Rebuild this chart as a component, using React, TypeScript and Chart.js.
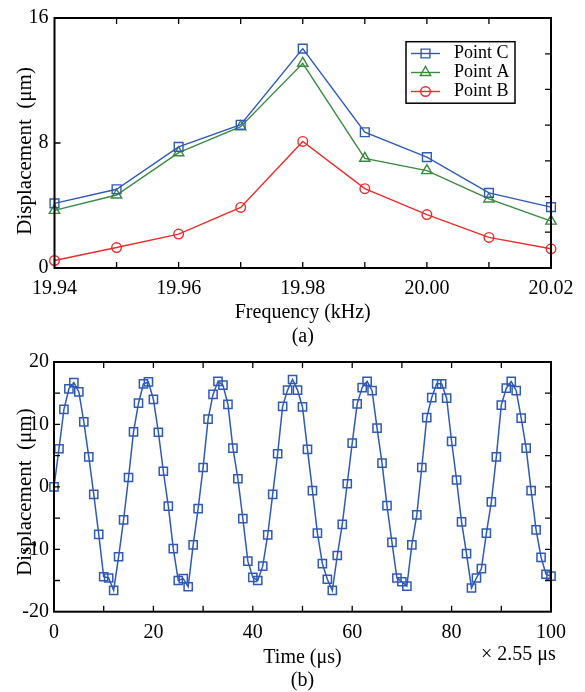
import React, { useEffect, useRef } from "react";
import { Chart, registerables } from "chart.js";

Chart.register(...registerables);

const FONT = "'Liberation Serif', 'Times New Roman', serif";

// ---------- (a) frequency response ----------
const frequencies = [19.94, 19.95, 19.96, 19.97, 19.98, 19.99, 20.0, 20.01, 20.02];
const pointC = [4.14, 5.04, 7.75, 9.17, 14.04, 8.69, 7.1, 4.81, 3.9];
const pointA = [3.69, 4.67, 7.38, 9.04, 13.1, 7.02, 6.23, 4.42, 3.0];
const pointB = [0.48, 1.31, 2.17, 3.88, 8.1, 5.08, 3.42, 1.96, 1.23];
const freqTickLabels = [19.94, 19.96, 19.98, 20.0, 20.02];
const freqMinorTicks = [19.95, 19.96, 19.97, 19.98, 19.99, 20.0, 20.01];
const dispTickLabels = [0, 8, 16];
const dispLeftTicks = [8];
const dispRightTicks = [2.29, 4.57, 6.86, 9.14, 11.43, 13.71];

// ---------- (b) time response ----------
const times = [
  0, 1, 2, 3, 4, 5, 6, 7, 8, 9, 10, 11, 12, 13, 14, 15, 16, 17, 18, 19, 20,
  21, 22, 23, 24, 25, 26, 27, 28, 29, 30, 31, 32, 33, 34, 35, 36, 37, 38, 39, 40,
  41, 42, 43, 44, 45, 46, 47, 48, 49, 50, 51, 52, 53, 54, 55, 56, 57, 58, 59, 60,
  61, 62, 63, 64, 65, 66, 67, 68, 69, 70, 71, 72, 73, 74, 75, 76, 77, 78, 79, 80,
  81, 82, 83, 84, 85, 86, 87, 88, 89, 90, 91, 92, 93, 94, 95, 96, 97, 98, 99, 100,
];
const timeDisp = [
  0, 6.1, 12.4, 15.7, 16.7, 15.2, 10.4, 4.8, -1.2, -7.6, -14.4,
  -14.6, -16.6, -11.2, -5.3, 1.5, 8.8, 13.4, 16.5, 16.8, 14.0,
  8.75, 2.5, -3.1, -9.9, -15.0, -14.7, -16.0, -9.3, -3.5, 3.1,
  10.85, 14.8, 16.9, 16.3, 13.2, 6.2, 1.3, -5.1, -11.9, -14.5,
  -15.0, -12.7, -7.7, -1.2, 5.3, 12.9, 15.5, 17.2, 15.5, 12.8,
  6.0, -0.6, -7.4, -12.3, -14.8, -16.6, -11.0, -6.0, 0.5, 7.0,
  13.3, 15.9, 16.9, 15.4, 9.4, 3.8, -3.0, -8.9, -14.6, -15.2,
  -15.9, -9.3, -4.5, 3.1, 11.1, 14.3, 16.5, 16.5, 14.2, 7.3,
  1.1, -5.6, -10.7, -16.2, -14.6, -13.1, -7.4, -2.4, 4.8, 13.1,
  15.8, 16.9, 15.4, 11.0, 6.2, -0.6, -6.9, -11.3, -14.0, -14.3,
];
const timeTickLabels = [0, 20, 40, 60, 80, 100];
const timeMinorTicks = [10, 20, 30, 40, 50, 60, 70, 80, 90];
const ampTickLabels = [-20, -10, 0, 10, 20];
const ampMinorTicks = [-15, -10, -5, 0, 5, 10, 15];

const COLOR_C = "#2f5ab8";
const COLOR_A = "#3a8a40";
const COLOR_B = "#ee2b2b";

function drawMarker(ctx: CanvasRenderingContext2D, style: string, x: number, y: number, r: number) {
  ctx.beginPath();
  if (style === "rect") {
    const s = r * Math.SQRT1_2;
    ctx.rect(x - s, y - s, 2 * s, 2 * s);
  } else if (style === "triangle") {
    for (let k = 0; k < 3; k++) {
      const a = (k * 2 * Math.PI) / 3;
      const px = x + Math.sin(a) * r;
      const py = y - Math.cos(a) * r;
      if (k === 0) ctx.moveTo(px, py);
      else ctx.lineTo(px, py);
    }
    ctx.closePath();
  } else {
    ctx.arc(x, y, r, 0, Math.PI * 2);
  }
  ctx.stroke();
}

const frameTicksPlugin = {
  id: "frameTicks",
  afterDatasetsDraw(chart: any, _args: any, opts: any) {
    const { ctx, chartArea, scales } = chart;
    const { left, right, top, bottom } = chartArea;
    const len = opts.length ?? 6;
    ctx.save();
    ctx.strokeStyle = "#000";
    ctx.lineWidth = 1.3;
    ctx.beginPath();
    (opts.xTicks || []).forEach((v: number) => {
      const px = scales.x.getPixelForValue(v);
      ctx.moveTo(px, bottom);
      ctx.lineTo(px, bottom - len);
      ctx.moveTo(px, top);
      ctx.lineTo(px, top + len);
    });
    (opts.yLeftTicks || []).forEach((v: number) => {
      const py = scales.y.getPixelForValue(v);
      ctx.moveTo(left, py);
      ctx.lineTo(left + len, py);
    });
    (opts.yRightTicks || []).forEach((v: number) => {
      const py = scales.y.getPixelForValue(v);
      ctx.moveTo(right, py);
      ctx.lineTo(right - len, py);
    });
    ctx.stroke();
    ctx.lineWidth = 2;
    ctx.strokeRect(left, top, right - left, bottom - top);
    ctx.restore();
  },
};

const boxLegendPlugin = {
  id: "boxLegend",
  afterDraw(chart: any, _args: any, opts: any) {
    if (!opts || !opts.show) return;
    const { ctx } = chart;
    const { x, y, w, h, firstRow, rowGap, lineX0, lineX1, textX, fontSize } = opts;
    ctx.save();
    ctx.fillStyle = "#fff";
    ctx.fillRect(x, y, w, h);
    ctx.strokeStyle = "#000";
    ctx.lineWidth = 1.5;
    ctx.strokeRect(x, y, w, h);
    chart.data.datasets.forEach((ds: any, i: number) => {
      const cy = y + firstRow + i * rowGap;
      ctx.strokeStyle = ds.borderColor;
      ctx.lineWidth = ds.borderWidth;
      ctx.beginPath();
      ctx.moveTo(x + lineX0, cy);
      ctx.lineTo(x + lineX1, cy);
      ctx.stroke();
      drawMarker(ctx, ds.pointStyle, x + (lineX0 + lineX1) / 2, cy, ds.pointRadius);
      ctx.fillStyle = "#000";
      ctx.font = `${fontSize}px ${FONT}`;
      ctx.textBaseline = "middle";
      ctx.textAlign = "left";
      ctx.fillText(ds.label, x + textX, cy);
    });
    ctx.restore();
  },
};

function lineDataset(label: string, xs: number[], ys: number[], color: string, style: string, radius: number, width: number) {
  return {
    label,
    data: xs.map((xv, i) => ({ x: xv, y: ys[i] })),
    borderColor: color,
    backgroundColor: "rgba(0,0,0,0)",
    borderWidth: width,
    pointStyle: style,
    pointRadius: radius,
    pointBorderWidth: width,
    pointBorderColor: color,
    pointBackgroundColor: "rgba(0,0,0,0)",
    tension: 0,
    clip: false,
    fill: false,
  };
}

const tickFont = { family: FONT, size: 20 };

export default function App() {
  const ref1 = useRef<HTMLCanvasElement>(null);
  const ref2 = useRef<HTMLCanvasElement>(null);

  useEffect(() => {
    const c1 = new Chart(ref1.current as HTMLCanvasElement, {
      type: "line",
      data: {
        datasets: [
          lineDataset("Point C", frequencies, pointC, COLOR_C, "rect", 6.2, 1.4),
          lineDataset("Point A", frequencies, pointA, COLOR_A, "triangle", 6, 1.4),
          lineDataset("Point B", frequencies, pointB, COLOR_B, "circle", 4.8, 1.4),
        ] as any,
      },
      options: {
        responsive: false,
        animation: false,
        events: [],
        layout: { padding: { left: 0, right: 34, top: 12.5, bottom: 0 } },
        plugins: {
          legend: { display: false },
          tooltip: { enabled: false },
          frameTicks: { xTicks: freqMinorTicks, yLeftTicks: dispLeftTicks, yRightTicks: dispRightTicks, length: 6 },
          boxLegend: {
            show: true, x: 406, y: 41.7, w: 109, h: 61.5,
            firstRow: 11.8, rowGap: 19, lineX0: 5, lineX1: 34, textX: 48, fontSize: 18,
          },
        } as any,
        scales: {
          x: {
            type: "linear",
            min: 19.94,
            max: 20.02,
            afterBuildTicks: (s: any) => { s.ticks = freqTickLabels.map((v) => ({ value: v })); },
            afterFit: (s: any) => { s.height = 81; },
            grid: { display: false, drawTicks: false },
            border: { display: false },
            ticks: {
              padding: 9, color: "#000", font: tickFont, maxRotation: 0, autoSkip: false,
              callback: (v: any) => Number(v).toFixed(2),
            },
            title: {
              display: true, text: ["Frequency (kHz)", "(a)"], color: "#000",
              font: { family: FONT, size: 20, lineHeight: 1.2 }, padding: { top: 0, bottom: 0 },
            },
          },
          y: {
            type: "linear",
            min: 0,
            max: 16,
            afterBuildTicks: (s: any) => { s.ticks = dispTickLabels.map((v) => ({ value: v })); },
            afterFit: (s: any) => { s.width = 54.5; },
            grid: { display: false, drawTicks: false },
            border: { display: false },
            ticks: { padding: 6, color: "#000", font: tickFont, callback: (v: any) => String(v) },
            title: {
              display: true, text: "Displacement  (μm)   ", color: "#000",
              font: { family: FONT, size: 21, lineHeight: 1.2 }, padding: { top: 12.4, bottom: 0 },
            },
          },
        },
      } as any,
      plugins: [frameTicksPlugin, boxLegendPlugin] as any,
    });

    const c2 = new Chart(ref2.current as HTMLCanvasElement, {
      type: "line",
      data: {
        datasets: [lineDataset("Displacement", times, timeDisp, COLOR_C, "rect", 5.8, 1.5)] as any,
      },
      options: {
        responsive: false,
        animation: false,
        events: [],
        layout: { padding: { left: 0, right: 34, top: 11.7, bottom: 0 } },
        plugins: {
          legend: { display: false },
          tooltip: { enabled: false },
          frameTicks: { xTicks: timeMinorTicks, yLeftTicks: ampMinorTicks, yRightTicks: ampMinorTicks, length: 6 },
          boxLegend: { show: false },
        } as any,
        scales: {
          x: {
            type: "linear",
            min: 0,
            max: 100,
            afterBuildTicks: (s: any) => { s.ticks = timeTickLabels.map((v) => ({ value: v })); },
            afterFit: (s: any) => { s.height = 80.3; },
            grid: { display: false, drawTicks: false },
            border: { display: false },
            ticks: { padding: 9, color: "#000", font: tickFont, maxRotation: 0, autoSkip: false, callback: (v: any) => String(v) },
            title: {
              display: true, text: ["Time (μs)", "(b)"], color: "#000",
              font: { family: FONT, size: 20, lineHeight: 1.15 }, padding: { top: 0, bottom: 0 },
            },
          },
          y: {
            type: "linear",
            min: -20,
            max: 20,
            afterBuildTicks: (s: any) => { s.ticks = ampTickLabels.map((v) => ({ value: v })); },
            afterFit: (s: any) => { s.width = 54; },
            grid: { display: false, drawTicks: false },
            border: { display: false },
            ticks: { padding: 5, color: "#000", font: tickFont, callback: (v: any) => String(v) },
            title: {
              display: true, text: "Displacement  (μm)  ", color: "#000",
              font: { family: FONT, size: 21, lineHeight: 1.2 }, padding: { top: 12.4, bottom: 0 },
            },
          },
        },
      } as any,
      plugins: [frameTicksPlugin] as any,
    });

    return () => {
      c1.destroy();
      c2.destroy();
    };
  }, []);

  return (
    <div style={{ position: "absolute", left: 0, top: 0, width: 585, height: 692, overflow: "hidden", background: "#fff" }}>
      <canvas ref={ref1} width={585} height={349} style={{ position: "absolute", left: 0, top: 0 }} />
      <canvas ref={ref2} width={585} height={347} style={{ position: "absolute", left: 0, top: 345 }} />
      <div
        style={{
          position: "absolute", left: 481, top: 641, font: `20px ${FONT}`, lineHeight: "24px",
          whiteSpace: "nowrap", color: "#000",
        }}
      >
        × 2.55 μs
      </div>
    </div>
  );
}
